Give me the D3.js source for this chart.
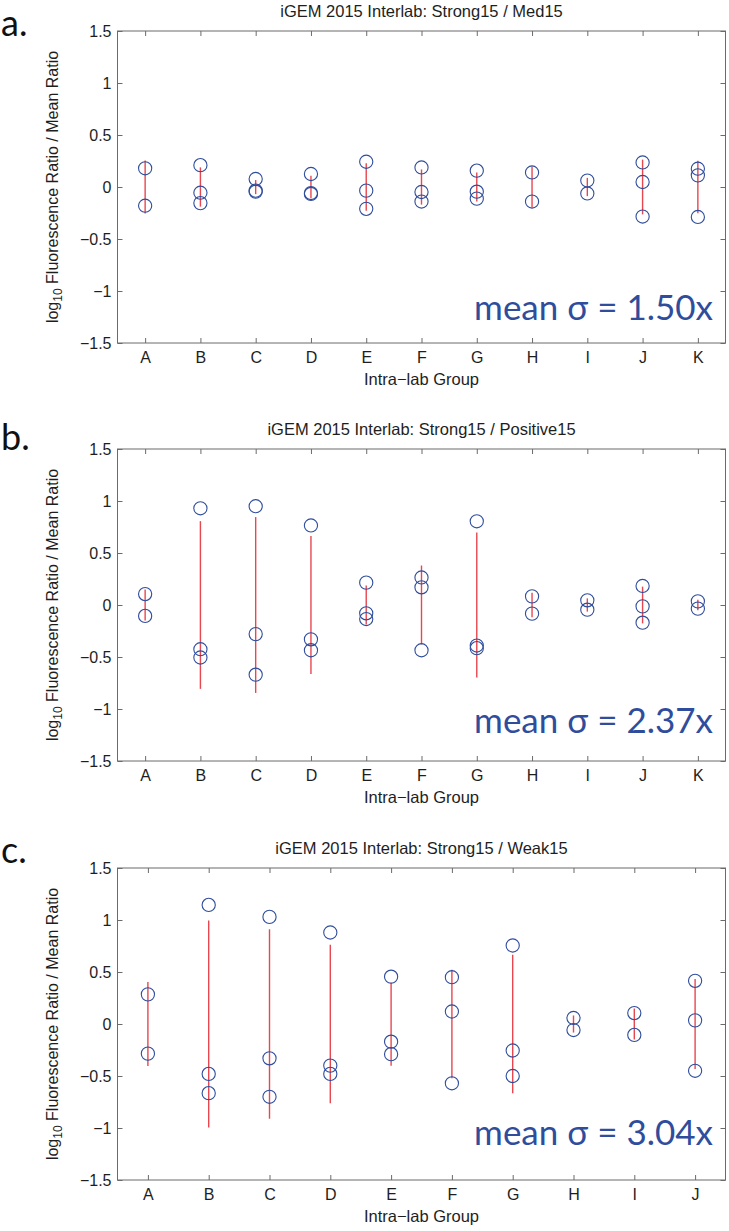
<!DOCTYPE html>
<html><head><meta charset="utf-8">
<script src="https://cdn.jsdelivr.net/npm/d3@7"></script>
<style>body{margin:0;background:#fff}svg{display:block}</style>
</head><body>
<svg id="chart" width="729" height="1231"></svg>
<script>
// ---------- data ----------
const groupsA = ["A","B","C","D","E","F","G","H","I","J","K"];
const groupsB = ["A","B","C","D","E","F","G","H","I","J","K"];
const groupsC = ["A","B","C","D","E","F","G","H","I","J"];

const valuesA = [
  [0.18, -0.18],
  [0.21, -0.055, -0.155],
  [0.077, -0.035, -0.045],
  [0.125, -0.058, -0.067],
  [0.243, -0.035, -0.21],
  [0.188, -0.048, -0.14],
  [0.157, -0.045, -0.112],
  [0.14, -0.14],
  [0.062, -0.062],
  [0.236, 0.048, -0.284],
  [0.176, 0.112, -0.288]
];
const valuesB = [
  [0.105, -0.105],
  [0.93, -0.425, -0.505],
  [0.95, -0.28, -0.67],
  [0.765, -0.33, -0.435],
  [0.215, -0.08, -0.135],
  [0.265, 0.17, -0.435],
  [0.805, -0.39, -0.415],
  [0.083, -0.083],
  [0.045, -0.045],
  [0.183, -0.013, -0.17],
  [0.035, -0.035]
];
const valuesC = [
  [0.285, -0.285],
  [1.145, -0.48, -0.665],
  [1.03, -0.33, -0.70],
  [0.88, -0.40, -0.48],
  [0.455, -0.17, -0.29],
  [0.45, 0.12, -0.57],
  [0.755, -0.255, -0.50],
  [0.058, -0.058],
  [0.105, -0.105],
  [0.415, 0.035, -0.45]
];

const titles = [
  "iGEM 2015 Interlab: Strong15 / Med15",
  "iGEM 2015 Interlab: Strong15 / Positive15",
  "iGEM 2015 Interlab: Strong15 / Weak15"
];
const sigmaLabels = ["mean \u03C3 = 1.50x", "mean \u03C3 = 2.37x", "mean \u03C3 = 3.04x"];
const panelLetters = ["a.", "b.", "c."];
const yTicks = [-1.5, -1, -0.5, 0, 0.5, 1, 1.5];
const yDomain = [-1.5, 1.5];
const xLabel = "Intra\u2212lab Group";

// ---------- layout ----------
const W = 729;
const L = 117.5, R = 725.5, PH = 312;
const tops = [31, 449, 868];
const letterBase = [36, 450, 863];
const sigmaBase = [320, 733, 1145];

const BLUE = "#2f4d9c", RED = "#e8474f", AXIS = "#6b6b6b", TXT = "#1e1e1e";
const FONT = "'Liberation Sans', Arial, Helvetica, sans-serif";

const svg = d3.select("#chart");
svg.append("rect").attr("width", W).attr("height", 1231).attr("fill", "#fff");

const panels = [
  {groups: groupsA, values: valuesA},
  {groups: groupsB, values: valuesB},
  {groups: groupsC, values: valuesC}
];

const fmt = v => (v < 0 ? "\u2212" : "") + Math.abs(v);

panels.forEach((p, i) => {
  const top = tops[i], bottom = top + PH;
  const g = svg.append("g");
  const x = d3.scalePoint().domain(p.groups).range([L, R]).padding(0.5);
  const y = d3.scaleLinear().domain(yDomain).range([bottom, top]);

  // box
  g.append("rect").attr("x", L).attr("y", top).attr("width", R - L).attr("height", PH)
    .attr("fill", "none").attr("stroke", AXIS).attr("stroke-width", 1);

  // axes
  const styleAxis = sel => {
    sel.select(".domain").remove();
    sel.selectAll(".tick line").attr("stroke", AXIS);
    sel.selectAll(".tick text").attr("fill", TXT).style("font-family", FONT).style("font-size", "16px");
  };
  g.append("g").attr("transform", `translate(${L},0)`)
    .call(d3.axisLeft(y).tickValues(yTicks).tickFormat(fmt).tickSize(-5).tickPadding(6).tickSizeOuter(0))
    .call(styleAxis);
  g.append("g").attr("transform", `translate(${R},0)`)
    .call(d3.axisRight(y).tickValues(yTicks).tickFormat("").tickSize(-5).tickSizeOuter(0))
    .call(styleAxis);
  g.append("g").attr("transform", `translate(0,${bottom})`)
    .call(d3.axisBottom(x).tickSize(-5).tickPadding(9).tickSizeOuter(0))
    .call(styleAxis);
  g.append("g").attr("transform", `translate(0,${top})`)
    .call(d3.axisTop(x).tickFormat("").tickSize(-5).tickSizeOuter(0))
    .call(styleAxis);

  // error bars: mean ± std of each group
  const stats = p.groups.map((k, j) => {
    const v = p.values[j];
    return {k, m: d3.mean(v), s: d3.deviation(v)};
  });
  g.selectAll("line.err").data(stats).join("line").attr("class", "err")
    .attr("x1", d => x(d.k)).attr("x2", d => x(d.k))
    .attr("y1", d => y(d.m - d.s)).attr("y2", d => y(d.m + d.s))
    .attr("stroke", RED).attr("stroke-width", 1.4);

  // points
  const pts = p.groups.flatMap((k, j) => p.values[j].map(v => ({k, v})));
  g.selectAll("circle.pt").data(pts).join("circle").attr("class", "pt")
    .attr("cx", d => x(d.k)).attr("cy", d => y(d.v)).attr("r", 6.6)
    .attr("fill", "none").attr("stroke", BLUE).attr("stroke-width", 1.1);

  // title
  g.append("text").attr("x", (L + R) / 2).attr("y", top - 14).attr("text-anchor", "middle")
    .style("font-family", FONT).style("font-size", "16.5px").attr("fill", TXT).text(titles[i]);

  // x label
  g.append("text").attr("x", (L + R) / 2).attr("y", bottom + 42).attr("text-anchor", "middle")
    .style("font-family", FONT).style("font-size", "16.5px").attr("fill", TXT).text(xLabel);

  // y label
  const yl = g.append("text").attr("transform", `translate(58,${(top + bottom) / 2}) rotate(-90)`)
    .attr("text-anchor", "middle").style("font-family", FONT).style("font-size", "16px").attr("fill", TXT);
  yl.append("tspan").text("log");
  yl.append("tspan").attr("dy", 4).style("font-size", "12px").text("10");
  yl.append("tspan").attr("dy", -4).text(" Fluorescence Ratio / Mean Ratio");

  // panel letter
  g.append("text").attr("x", 1).attr("y", letterBase[i])
    .style("font-family", "Lato, 'Open Sans', sans-serif").style("font-size", "36px").attr("fill", "#111")
    .text(panelLetters[i]);

  // sigma annotation
  g.append("text").attr("x", 713).attr("y", sigmaBase[i]).attr("text-anchor", "end")
    .style("font-family", "Lato, 'Open Sans', sans-serif").style("font-size", "35px").attr("fill", BLUE)
    .text(sigmaLabels[i]);
});
</script>
</body></html>
